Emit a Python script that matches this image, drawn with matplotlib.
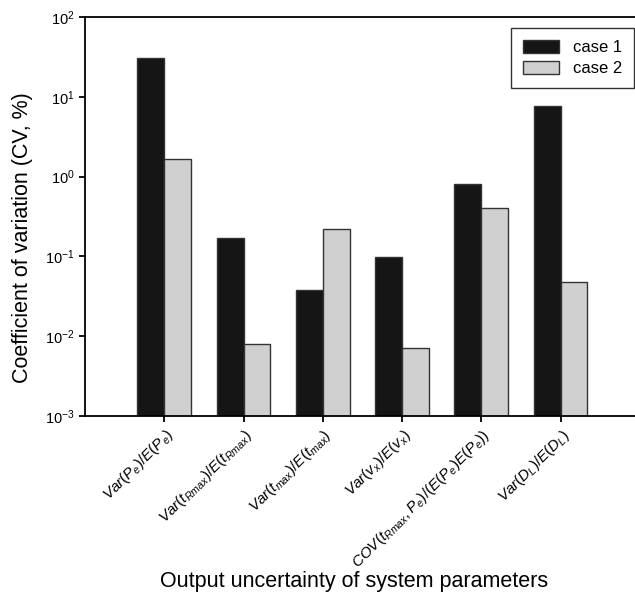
import matplotlib
matplotlib.use("Agg")
import matplotlib.pyplot as plt
import matplotlib.transforms as mtransforms
import numpy as np

plt.rcParams["font.family"] = ["Liberation Sans", "DejaVu Sans"]
plt.rcParams["mathtext.fontset"] = "custom"
plt.rcParams["mathtext.rm"] = "Liberation Sans"
plt.rcParams["mathtext.it"] = "Liberation Sans:italic"
plt.rcParams["mathtext.bf"] = "Liberation Sans:bold"

# values (CV, %)
labels = [
    r"$Var(P_e)/E(P_e)$",
    r"$Var(t_{Rmax})/E(t_{Rmax})$",
    r"$Var(t_{max})/E(t_{max})$",
    r"$Var(v_x)/E(v_x)$",
    r"$COV(t_{Rmax},P_e)/(E(P_e)E(P_e))$",
    r"$Var(D_L)/E(D_L)$",
]
case1 = [30.3, 0.171, 0.0377, 0.0968, 0.80, 7.7]
case2 = [1.64, 0.0079, 0.219, 0.0070, 0.40, 0.048]

x = np.arange(len(labels))
width = 0.34

fig = plt.figure(figsize=(6.35, 5.98), dpi=100)
ax = fig.add_axes([0.1339, 0.3048, 0.8661, 0.6667])

ax.bar(x - width / 2, case1, width, color="#151515", edgecolor="#333333",
       linewidth=1.0, label="case 1")
ax.bar(x + width / 2, case2, width, color="#d0d0d0", edgecolor="#333333",
       linewidth=1.0, label="case 2")

ax.set_yscale("log")
ax.set_ylim(1e-3, 1e2)
ax.set_xlim(-1.0, 5.94)
ax.yaxis.set_minor_locator(matplotlib.ticker.NullLocator())

ax.spines["right"].set_visible(False)
for s in ["left", "bottom", "top"]:
    ax.spines[s].set_linewidth(1.3)

ax.set_xticks(x)
ax.set_xticklabels(labels, rotation=45, ha="right", va="top",
                   rotation_mode="anchor", fontsize=11)
offset = mtransforms.ScaledTranslation(8 / 100, -5 / 100, fig.dpi_scale_trans)
for lab in ax.get_xticklabels():
    lab.set_transform(lab.get_transform() + offset)

ax.tick_params(axis="both", direction="out", length=4, width=1.3)
ax.tick_params(axis="y", labelsize=10.5)

ax.set_ylabel("Coefficient of variation (CV, %)", fontsize=15.5)
ax.yaxis.set_label_coords(-0.095, 0.446)
ax.set_xlabel("Output uncertainty of system parameters", fontsize=15.5)
ax.xaxis.set_label_coords(0.489, -0.39)

leg = ax.legend(loc="upper left", bbox_to_anchor=(0.7745, 0.972), fontsize=12,
                fancybox=False, edgecolor="#333333", framealpha=1,
                handlelength=2.2, handleheight=0.8, borderpad=0.7,
                borderaxespad=0, labelspacing=0.35)
leg.get_frame().set_linewidth(1.0)

fig.savefig("out.png", dpi=100)
